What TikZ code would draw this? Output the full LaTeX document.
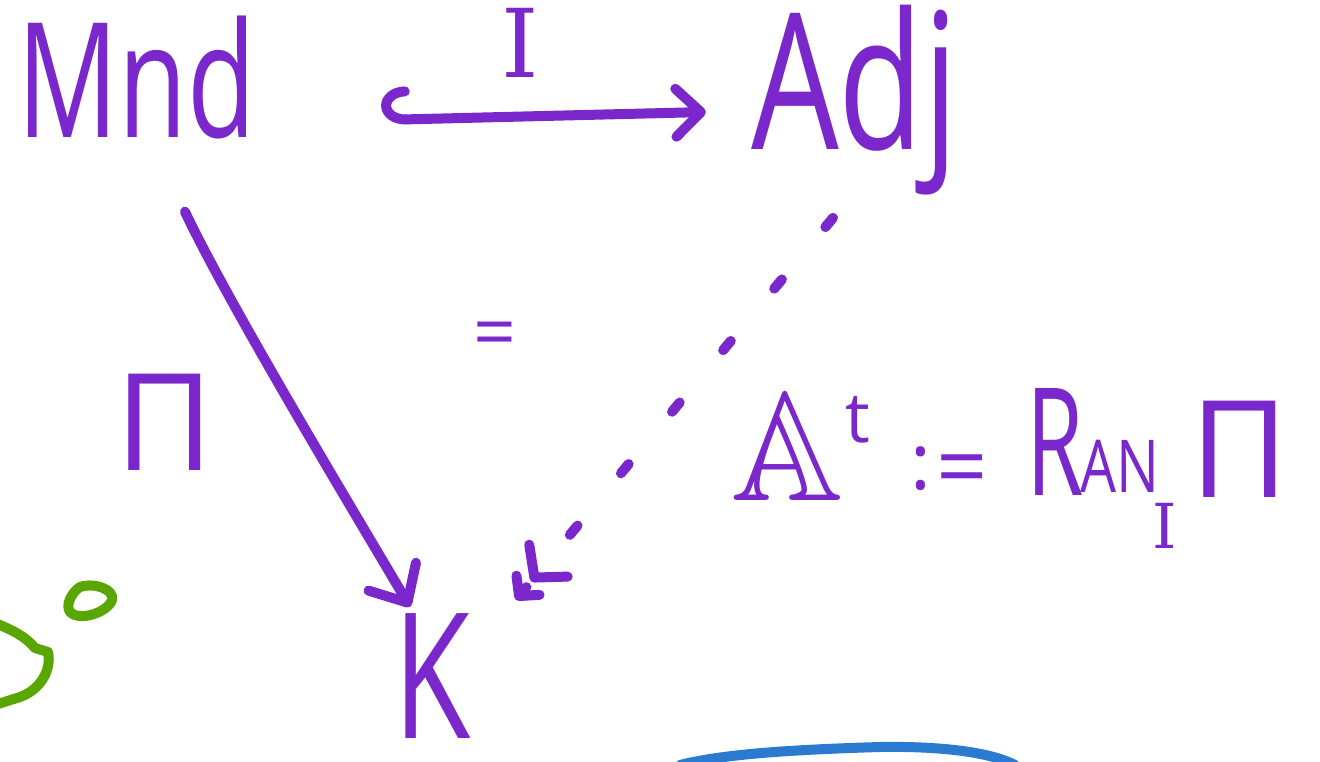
\documentclass[tikz,border=0pt]{standalone}
\usepackage{fontspec}
\setmainfont{Open Sans}
\newfontfamily\slab{DejaVu Serif}
\usepackage{amssymb}
\usetikzlibrary{arrows.meta,calc}
\definecolor{ink}{HTML}{7A28CB}
\definecolor{grn}{HTML}{5AA600}
\definecolor{blu}{HTML}{2A7BD0}
\begin{document}
\begin{tikzpicture}[x=1pt,y=-1pt,
 txt/.style={text=ink, inner sep=0pt, anchor=base},
 pen/.style={draw=ink, line width=10pt, line cap=round, line join=round},
 gpen/.style={draw=grn, line width=10pt, line cap=round, line join=round},
 bpen/.style={draw=blu, line width=10pt, line cap=round, line join=round},
 sz/.style={font=\fontsize{#1}{#1}\selectfont},
]
\useasboundingbox (0,0) rectangle (1320,762);
\node[txt,sz=160] (mnd) at (137,138) {\scalebox{0.7}[1]{Mnd}};
\node[txt,sz=190] (adj) at (855,150) {\scalebox{0.73}[1]{Adj}};
\node[txt,sz=175] (K) at (432,738) {\scalebox{0.72}[1]{K}};
\node[txt,sz=95] (I) at (520,78) {\slab I};
\node[txt,sz=135] (pi) at (165,470) {Π};
\node[txt,sz=75] (eq) at (495,358) {=};
\node[txt,sz=155] (A) at (787,500) {\usefont{U}{msb}{m}{n}A};
\node[txt,sz=70] (t) at (858,442) {t};
\node[txt,sz=78] (colon) at (921,489) {:};
\node[txt,sz=90] (def) at (962,498) {=};
\node[txt,sz=150] (R) at (1055,495) {\scalebox{0.62}[1]{R}};
\node[txt,sz=73] (an) at (1120,492) {\scalebox{0.78}[1]{AN}};
\node[txt,sz=135] (pi2) at (1240,497) {Π};
\node[txt,sz=62] (sub) at (1165,548) {\slab I};
% Mnd -> K
\draw[pen, -{Straight Barb[length=30pt,width=55pt,round]}] ($(mnd.south)+(48,72)$) .. controls +(45,95) and +(-50,-85) .. ($(K.north)+(-22,-6)$);
% Mnd hook -> Adj
\draw[pen, {Hooks[right,length=24pt,width=66pt,round]}-{Straight Barb[length=25pt,width=48pt,round]}] ($(mnd.base east)+(125,-18)$) -- ($(adj.base west)+(-45,-38)$);
% Adj dashed -> K
\draw[pen, dash pattern=on 12pt off 68pt, -{Straight Barb[length=22pt,width=50pt,round] Straight Barb[length=14pt,width=30pt,round]}] ($(adj.south)+(-22,22)$) -- ($(K.north east)+(45,-13)$);
% green scribbles
\draw[gpen] (-5,623) .. controls (12,630) and (25,636) .. (35,648) -- (48,652) .. controls (52,670) and (40,690) .. (20,697) -- (-5,705);
\draw[gpen] (80,587) .. controls (95,582) and (115,590) .. (112,600) .. controls (108,612) and (80,622) .. (70,612) .. controls (65,605) and (72,592) .. cycle;
% blue arc
\draw[bpen] (680,765) .. controls (720,755) and (780,750) .. (880,747) .. controls (940,746) and (990,752) .. (1015,765);
\end{tikzpicture}
\end{document}
